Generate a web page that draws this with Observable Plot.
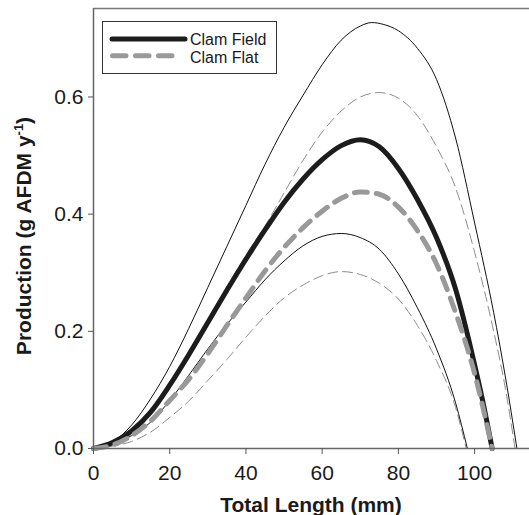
<!DOCTYPE html>
<html>
<head>
<meta charset="utf-8">
<script src="https://cdn.jsdelivr.net/npm/d3@7"></script>
<script src="https://cdn.jsdelivr.net/npm/@observablehq/plot@0.6"></script>
<style>
  html, body { margin: 0; padding: 0; background: #fff; }
  #chart { width: 529px; height: 515px; }
</style>
</head>
<body>
<div id="chart"></div>
<script>
// ---- Data (Total Length in mm, Production in g AFDM / y) ----
const fieldUpperX = [0,5,10,15,20,25,30,35,40,45,50,55,60,65,70,73,76,80,85,90,95,100,105,108,111.1];
const fieldUpperY = [0,0.011,0.040,0.085,0.140,0.205,0.275,0.345,0.415,0.485,0.548,0.603,0.655,0.697,0.721,0.727,0.724,0.713,0.683,0.630,0.530,0.385,0.232,0.125,0];

const flatUpperX = [0,5,10,15,20,25,30,35,40,45,50,55,60,65,70,75,80,85,90,95,100,105,108,110.6];
const flatUpperY = [0,0.010,0.032,0.066,0.111,0.164,0.220,0.276,0.330,0.380,0.436,0.492,0.540,0.576,0.600,0.6075,0.598,0.568,0.515,0.445,0.335,0.200,0.105,0];

const fieldMeanX = [0,5,10,15,20,25,30,35,40,45,50,55,60,65,70,75,80,85,90,95,100,102,104.6];
const fieldMeanY = [0,0.010,0.030,0.062,0.108,0.160,0.215,0.270,0.323,0.373,0.420,0.460,0.493,0.517,0.527,0.515,0.478,0.425,0.360,0.272,0.143,0.085,0];

const flatMeanX = [0,5,10,15,20,25,30,35,40,45,50,55,60,65,70,75,80,85,90,95,100,104.6];
const flatMeanY = [0,0.006,0.022,0.047,0.082,0.118,0.162,0.210,0.257,0.303,0.343,0.377,0.405,0.427,0.438,0.434,0.412,0.372,0.315,0.232,0.128,0];

const fieldLowerX = [0,5,10,15,20,25,30,35,40,45,50,55,60,65,70,75,80,85,90,95,98.1];
const fieldLowerY = [0,0.008,0.022,0.045,0.082,0.125,0.170,0.212,0.250,0.288,0.320,0.346,0.362,0.367,0.360,0.340,0.298,0.240,0.170,0.078,0];

const flatLowerX = [0,5,10,15,20,25,30,35,40,45,50,55,60,65,70,75,80,85,90,95,97.8];
const flatLowerY = [0,0.004,0.012,0.028,0.053,0.081,0.116,0.152,0.190,0.226,0.257,0.279,0.295,0.302,0.297,0.282,0.255,0.210,0.150,0.070,0];

const xTicks = [0,20,40,60,80,100];
const yTicks = [0,0.2,0.4,0.6];
const legendLabels = ["Clam Field", "Clam Flat"];
const xTitle = "Total Length (mm)";
const yTitleMain = "Production (g AFDM y";
const yTitleSup = "-1";
const yTitleEnd = ")";

const toRows = (xs, ys) => xs.map((x, i) => ({x, y: ys[i]}));

const font = "'Liberation Sans', Arial, Helvetica, sans-serif";

const plot = Plot.plot({
  width: 529,
  height: 515,
  marginLeft: 93,
  marginRight: 0,
  marginTop: 8,
  marginBottom: 67,
  style: {fontFamily: font, fontSize: "21px", color: "#1a1a1a", background: "#fff", overflow: "visible"},
  x: {domain: [0, 114.4]},
  y: {domain: [0, 0.751]},
  marks: [
    Plot.ruleY([0.751], {stroke: "#777", strokeWidth: 1.5}),
    Plot.line(toRows(flatUpperX, flatUpperY), {x: "x", y: "y", curve: "monotone-x", stroke: "#8c8c8c", strokeWidth: 1, strokeDasharray: "10,5"}),
    Plot.line(toRows(flatLowerX, flatLowerY), {x: "x", y: "y", curve: "monotone-x", stroke: "#8c8c8c", strokeWidth: 1, strokeDasharray: "10,5"}),
    Plot.line(toRows(fieldUpperX, fieldUpperY), {x: "x", y: "y", curve: "monotone-x", stroke: "#111", strokeWidth: 1}),
    Plot.line(toRows(fieldLowerX, fieldLowerY), {x: "x", y: "y", curve: "monotone-x", stroke: "#111", strokeWidth: 1}),
    Plot.line(toRows(fieldMeanX, fieldMeanY), {x: "x", y: "y", curve: "monotone-x", stroke: "#1c1c1c", strokeWidth: 5}),
    Plot.line(toRows(flatMeanX, flatMeanY), {x: "x", y: "y", curve: "monotone-x", stroke: "#999", strokeWidth: 5, strokeDasharray: "13,9", strokeLinecap: "round"}),
    Plot.ruleX([0], {stroke: "#666", strokeWidth: 1.5}),
    Plot.ruleY([0], {stroke: "#666", strokeWidth: 1.5}),
    Plot.axisX({ticks: xTicks, tickSize: 6, tickPadding: 11, stroke: "#555", fill: "#1a1a1a", label: null, tickFormat: d => String(d)}),
    Plot.axisY({ticks: yTicks, tickSize: 5, tickPadding: 5, stroke: "#555", fill: "#1a1a1a", label: null, tickFormat: d3.format(".1f")})
  ]
});

const svg = d3.select(plot);

// Axis titles
svg.append("text")
  .attr("x", 311).attr("y", 512)
  .attr("text-anchor", "middle")
  .attr("font-family", font).attr("font-size", 21).attr("font-weight", "bold").attr("fill", "#1a1a1a")
  .text(xTitle);

const yt = svg.append("text")
  .attr("transform", "translate(31,236) rotate(-90)")
  .attr("text-anchor", "middle")
  .attr("font-family", font).attr("font-size", 21).attr("font-weight", "bold").attr("fill", "#1a1a1a");
yt.append("tspan").text(yTitleMain);
yt.append("tspan").attr("dy", -8).attr("font-size", 13).text(yTitleSup);
yt.append("tspan").attr("dy", 8).text(yTitleEnd);

// Legend
const lg = svg.append("g").attr("text-anchor", "start");
lg.append("rect").attr("x", 102.5).attr("y", 21.5).attr("width", 174).attr("height", 52)
  .attr("fill", "#fff").attr("stroke", "#333").attr("stroke-width", 1);
lg.append("line").attr("x1", 112).attr("x2", 185).attr("y1", 39).attr("y2", 39)
  .attr("stroke", "#1c1c1c").attr("stroke-width", 5).attr("stroke-linecap", "round");
lg.append("line").attr("x1", 112.5).attr("x2", 172).attr("y1", 55.7).attr("y2", 55.7)
  .attr("stroke", "#999").attr("stroke-width", 5).attr("stroke-dasharray", "13.5,9.5").attr("stroke-linecap", "round");
lg.append("text").attr("x", 190).attr("y", 44.5).attr("text-anchor", "start").attr("font-family", font).attr("font-size", 16).attr("fill", "#1a1a1a").text(legendLabels[0]);
lg.append("text").attr("x", 190).attr("y", 63).attr("text-anchor", "start").attr("font-family", font).attr("font-size", 16).attr("fill", "#1a1a1a").text(legendLabels[1]);

document.getElementById("chart").appendChild(plot);
</script>
</body>
</html>
